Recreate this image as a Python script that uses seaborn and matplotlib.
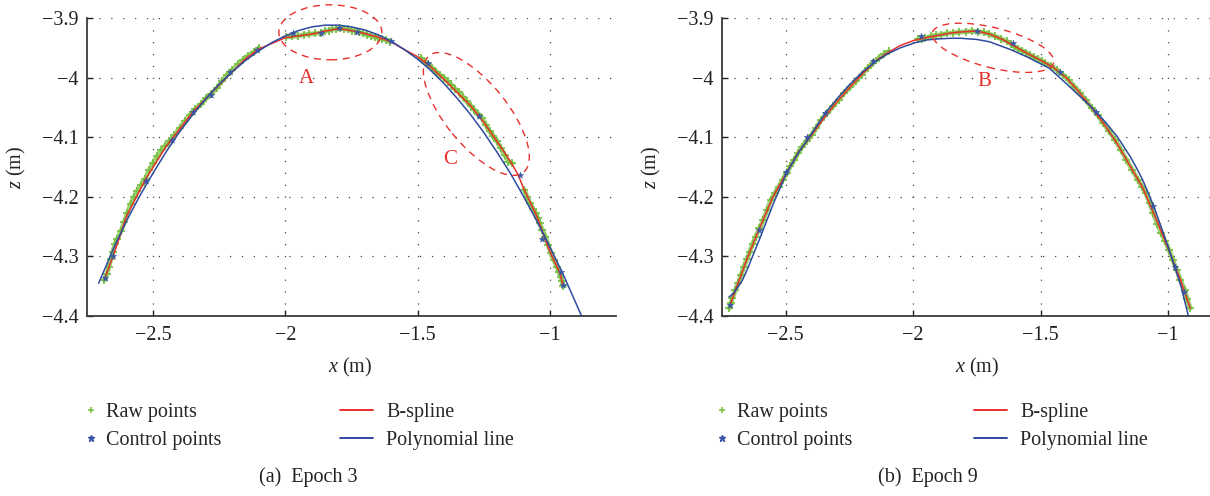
import matplotlib
matplotlib.use('Agg')
import matplotlib.pyplot as plt
from matplotlib.lines import Line2D
from matplotlib.patches import Ellipse
from matplotlib.transforms import ScaledTranslation
import seaborn as sns

# ---------------- data ----------------
# (a) Epoch 3
raw_x_e3 = [-2.684, -2.675, -2.668, -2.660, -2.652, -2.645, -2.635, -2.622, -2.610, -2.598,
            -2.585, -2.572, -2.560, -2.545, -2.530, -2.515, -2.500, -2.485, -2.470, -2.455,
            -2.440, -2.420, -2.400, -2.380, -2.360, -2.340, -2.320, -2.300, -2.280, -2.260,
            -2.240, -2.220, -2.200, -2.180, -2.160, -2.140, -2.120, -2.100,
            -1.996, -1.975, -1.952, -1.930, -1.909, -1.887, -1.865, -1.850, -1.836, -1.822,
            -1.807, -1.792, -1.778, -1.763, -1.749, -1.735, -1.720, -1.705, -1.691, -1.676,
            -1.662, -1.648, -1.633, -1.618, -1.604,
            -1.488, -1.474, -1.460, -1.445, -1.430, -1.416, -1.401, -1.387, -1.372, -1.358,
            -1.343, -1.329, -1.315, -1.300, -1.286, -1.271, -1.257, -1.243, -1.228, -1.214,
            -1.200, -1.186, -1.171, -1.157, -1.142,
            -1.097, -1.086, -1.075, -1.064, -1.054, -1.046, -1.039, -1.028, -1.017, -1.006,
            -0.996, -0.985, -0.974, -0.966, -0.959, -0.954, -0.949]
raw_z_e3 = [-4.340, -4.330, -4.318, -4.305, -4.292, -4.280, -4.270, -4.258, -4.243, -4.228,
            -4.212, -4.200, -4.190, -4.180, -4.170, -4.155, -4.143, -4.132, -4.122, -4.115,
            -4.107, -4.097, -4.085, -4.073, -4.062, -4.052, -4.045, -4.035, -4.027, -4.018,
            -4.006, -3.995, -3.987, -3.978, -3.970, -3.963, -3.957, -3.950,
            -3.932, -3.931, -3.930, -3.928, -3.927, -3.926, -3.925, -3.922, -3.921, -3.919,
            -3.918, -3.917, -3.918, -3.919, -3.921, -3.922, -3.924, -3.926, -3.928, -3.930,
            -3.932, -3.933, -3.935, -3.937, -3.940,
            -3.967, -3.973, -3.978, -3.984, -3.990, -3.995, -4.000, -4.006, -4.012, -4.019,
            -4.025, -4.032, -4.040, -4.047, -4.054, -4.061, -4.068, -4.079, -4.090, -4.098,
            -4.107, -4.118, -4.130, -4.141, -4.144,
            -4.188, -4.200, -4.211, -4.220, -4.228, -4.236, -4.244, -4.256, -4.267, -4.281,
            -4.295, -4.306, -4.317, -4.326, -4.334, -4.342, -4.350]
raw_breaks_e3 = [38, 63, 88]

ctrl_x_e3 = [-2.681, -2.651, -2.528, -2.428, -2.351, -2.281, -2.209, -2.109, -1.971, -1.865,
             -1.796, -1.728, -1.601, -1.459, -1.267, -1.112, -1.028, -0.957, -0.952]
ctrl_z_e3 = [-4.337, -4.299, -4.174, -4.104, -4.058, -4.029, -3.991, -3.954, -3.925, -3.925,
             -3.916, -3.924, -3.939, -3.976, -4.064, -4.164, -4.270, -4.327, -4.348]

spline_x_e3 = [-2.684, -2.650, -2.600, -2.528, -2.450, -2.350, -2.250, -2.150, -2.100, -2.000,
               -1.950, -1.900, -1.850, -1.800, -1.750, -1.700, -1.650, -1.600, -1.550, -1.500,
               -1.450, -1.400, -1.350, -1.300, -1.250, -1.200, -1.150, -1.120, -1.100, -1.050,
               -1.000, -0.960, -0.950]
spline_z_e3 = [-4.338, -4.298, -4.232, -4.170, -4.115, -4.058, -4.012, -3.968, -3.952, -3.933,
               -3.930, -3.927, -3.922, -3.918, -3.921, -3.926, -3.932, -3.940, -3.953, -3.965,
               -3.982, -4.003, -4.025, -4.047, -4.075, -4.107, -4.140, -4.163, -4.185, -4.232,
               -4.292, -4.330, -4.350]

poly_x_e3 = [-2.706, -2.650, -2.600, -2.550, -2.500, -2.450, -2.400, -2.350, -2.300, -2.250,
             -2.200, -2.150, -2.100, -2.050, -2.000, -1.950, -1.900, -1.850, -1.800, -1.750,
             -1.700, -1.650, -1.600, -1.550, -1.500, -1.450, -1.400, -1.350, -1.300, -1.250,
             -1.200, -1.150, -1.100, -1.050, -1.000, -0.950, -0.900, -0.880]
poly_z_e3 = [-4.345, -4.287, -4.240, -4.198, -4.160, -4.124, -4.091, -4.062, -4.035, -4.011,
             -3.990, -3.971, -3.955, -3.941, -3.930, -3.921, -3.915, -3.912, -3.912, -3.915,
             -3.920, -3.928, -3.939, -3.953, -3.969, -3.988, -4.010, -4.035, -4.062, -4.092,
             -4.125, -4.160, -4.199, -4.240, -4.284, -4.330, -4.380, -4.400]

# (b) Epoch 9
raw_x_e9 = [-2.721, -2.715, -2.709, -2.698, -2.686, -2.675, -2.664, -2.652, -2.641, -2.630,
            -2.618, -2.603, -2.588, -2.573, -2.558, -2.543, -2.527, -2.512, -2.497, -2.482,
            -2.467, -2.452, -2.436, -2.417, -2.398, -2.380, -2.361, -2.338, -2.315, -2.292,
            -2.270, -2.247, -2.224, -2.202, -2.179, -2.156, -2.133, -2.114, -2.095,
            -1.982, -1.967, -1.952, -1.932, -1.911, -1.891, -1.868, -1.845, -1.820, -1.795,
            -1.770, -1.747, -1.724, -1.701, -1.679, -1.656, -1.633, -1.618, -1.603, -1.588,
            -1.572, -1.557, -1.542, -1.527, -1.512, -1.497, -1.482, -1.459, -1.436, -1.414,
            -1.391, -1.368, -1.345, -1.323, -1.300, -1.277, -1.255, -1.232, -1.209, -1.186,
            -1.164, -1.141, -1.118, -1.103, -1.088, -1.073, -1.058, -1.043, -1.027, -1.012,
            -0.997, -0.982, -0.967, -0.952, -0.936, -0.925, -0.914]
raw_z_e9 = [-4.387, -4.378, -4.370, -4.357, -4.345, -4.331, -4.317, -4.304, -4.292, -4.279,
            -4.267, -4.253, -4.239, -4.222, -4.205, -4.194, -4.183, -4.171, -4.160, -4.149,
            -4.138, -4.127, -4.116, -4.106, -4.096, -4.084, -4.071, -4.060, -4.048, -4.037,
            -4.026, -4.016, -4.006, -3.995, -3.984, -3.975, -3.967, -3.961, -3.956,
            -3.936, -3.935, -3.934, -3.931, -3.929, -3.928, -3.926, -3.925, -3.924, -3.923,
            -3.922, -3.923, -3.924, -3.927, -3.931, -3.935, -3.939, -3.943, -3.948, -3.952,
            -3.955, -3.958, -3.962, -3.966, -3.969, -3.972, -3.976, -3.981, -3.987, -3.995,
            -4.004, -4.015, -4.026, -4.038, -4.051, -4.063, -4.076, -4.090, -4.104, -4.121,
            -4.138, -4.155, -4.172, -4.183, -4.194, -4.211, -4.228, -4.245, -4.261, -4.275,
            -4.289, -4.306, -4.323, -4.340, -4.356, -4.372, -4.387]
raw_breaks_e9 = [39]

ctrl_x_e9 = [-2.720, -2.606, -2.500, -2.417, -2.348, -2.159, -1.970, -1.750, -1.608, -1.424,
             -1.285, -1.061, -0.974, -0.939]
ctrl_z_e9 = [-4.382, -4.256, -4.159, -4.099, -4.060, -3.972, -3.930, -3.921, -3.942, -3.990,
             -4.058, -4.216, -4.317, -4.359]

spline_x_e9 = [-2.721, -2.700, -2.650, -2.600, -2.550, -2.500, -2.450, -2.400, -2.350, -2.300,
               -2.250, -2.200, -2.150, -2.100, -2.050, -2.000, -1.950, -1.900, -1.850, -1.800,
               -1.750, -1.700, -1.650, -1.600, -1.550, -1.500, -1.450, -1.400, -1.350, -1.300,
               -1.250, -1.200, -1.150, -1.100, -1.050, -1.000, -0.950, -0.914]
spline_z_e9 = [-4.385, -4.360, -4.302, -4.250, -4.200, -4.162, -4.125, -4.097, -4.068, -4.041,
               -4.017, -3.994, -3.973, -3.958, -3.946, -3.938, -3.933, -3.929, -3.925, -3.923,
               -3.922, -3.927, -3.936, -3.948, -3.960, -3.971, -3.983, -4.000, -4.024, -4.051,
               -4.079, -4.111, -4.148, -4.185, -4.235, -4.287, -4.342, -4.387]

poly_x_e9 = [-2.722, -2.705, -2.691, -2.670, -2.652, -2.600, -2.550, -2.497, -2.450, -2.400,
             -2.345, -2.300, -2.250, -2.200, -2.148, -2.100, -2.050, -1.997, -1.950, -1.900,
             -1.850, -1.815, -1.750, -1.700, -1.650, -1.618, -1.550, -1.500, -1.467, -1.400,
             -1.350, -1.300, -1.250, -1.200, -1.150, -1.125, -1.100, -1.075, -1.050, -1.025,
             -1.000, -0.975, -0.950, -0.921]
poly_z_e9 = [-4.368, -4.362, -4.353, -4.340, -4.323, -4.268, -4.213, -4.160, -4.126, -4.095,
             -4.060, -4.036, -4.012, -3.991, -3.973, -3.960, -3.950, -3.942, -3.937, -3.935,
             -3.934, -3.934, -3.936, -3.940, -3.948, -3.953, -3.966, -3.977, -3.984, -4.010,
             -4.030, -4.050, -4.073, -4.099, -4.132, -4.151, -4.172, -4.197, -4.224, -4.254,
             -4.285, -4.317, -4.350, -4.400]

x_ticks = [-2.5, -2.0, -1.5, -1.0]
x_tick_labels = ['\u22122.5', '\u22122', '\u22121.5', '\u22121']
z_ticks = [-3.9, -4.0, -4.1, -4.2, -4.3, -4.4]
z_tick_labels = ['\u22123.9', '\u22124', '\u22124.1', '\u22124.2', '\u22124.3', '\u22124.4']
captions = ['(a)  Epoch 3', '(b)  Epoch 9']
legend_labels = ['Raw points', 'Control points', 'B-spline', 'Polynomial line']

GREEN = '#78c245'
BLUE_PT = '#3a55a5'
RED = '#e8302c'
BLUE = '#2f49a0'

# ---------------- style ----------------
sns.set_style('white')
plt.rcParams['font.family'] = ['Liberation Serif', 'DejaVu Serif']
plt.rcParams['mathtext.fontset'] = 'custom'
plt.rcParams['mathtext.it'] = 'Liberation Serif:italic'
plt.rcParams['mathtext.rm'] = 'Liberation Serif'
FS = 14.5
W, H = 1210, 496

fig = plt.figure(figsize=(12.1, 4.96), dpi=100)
ax1 = fig.add_axes([87 / W, 180 / H, 529 / W, 298 / H])
ax2 = fig.add_axes([722 / W, 180 / H, 510 / W, 298 / H])


def draw_panel(ax, rx, rz, breaks, cx, cz, sx, sz, px, pz):
    # dense green band behind the raw "+" markers
    cuts = [0] + breaks + [len(rx)]
    for a, b in zip(cuts[:-1], cuts[1:]):
        ax.plot(rx[a:b], rz[a:b], color=GREEN, lw=3.4, alpha=0.75,
                solid_capstyle='round', zorder=2)
    sns.scatterplot(x=rx, y=rz, marker='+', color=GREEN, s=30, linewidth=1.3,
                    ax=ax, zorder=2.5)
    sns.lineplot(x=sx, y=sz, sort=False, estimator=None, color=RED, lw=1.1,
                 ax=ax, zorder=3)
    sns.lineplot(x=px, y=pz, sort=False, estimator=None, color=BLUE, lw=1.1,
                 ax=ax, zorder=3.1)
    sns.scatterplot(x=cx, y=cz, marker='*', color=BLUE_PT, edgecolor=BLUE_PT,
                    s=22, linewidth=0.4, ax=ax, zorder=4)

    ax.set_xlim(-2.75, -0.75)
    ax.set_ylim(-4.4, -3.9)
    ax.set_xticks(x_ticks)
    ax.set_xticklabels(x_tick_labels)
    ax.set_yticks(z_ticks)
    ax.set_yticklabels(z_tick_labels)
    ax.grid(True, linestyle=(0, (1, 8.5)), color='#444444', lw=0.9)
    ax.tick_params(axis='both', direction='in', length=4, width=1, bottom=True,
                   left=True, labelsize=FS, colors='#222222')
    ax.tick_params(axis='x', pad=7)
    ax.tick_params(axis='y', pad=6)
    for s in ['top', 'right']:
        ax.spines[s].set_visible(False)
    for s in ['left', 'bottom']:
        ax.spines[s].set_color('#3a3a3a')
        ax.spines[s].set_linewidth(1.3)
    ax.set_xlabel('$x$ (m)', fontsize=FS, color='#222222')
    ax.set_ylabel('$z$ (m)', fontsize=FS, color='#222222')


draw_panel(ax1, raw_x_e3, raw_z_e3, raw_breaks_e3, ctrl_x_e3, ctrl_z_e3,
           spline_x_e3, spline_z_e3, poly_x_e3, poly_z_e3)
draw_panel(ax2, raw_x_e9, raw_z_e9, raw_breaks_e9, ctrl_x_e9, ctrl_z_e9,
           spline_x_e9, spline_z_e9, poly_x_e9, poly_z_e9)

ax1.xaxis.set_label_coords(0.497, -0.135)
ax2.xaxis.set_label_coords(0.5, -0.135)
ax1.yaxis.set_label_coords(-0.1115, 0.5)
ax2.yaxis.set_label_coords(-0.1157, 0.5)


# dashed annotation ellipses, sized in pixels around a data point
def ring(ax, xc, zc, w, h, ang, label, lx, lz):
    e = Ellipse((0, 0), w, h, angle=ang, fill=False, edgecolor=RED, lw=1.0,
                linestyle=(0, (5, 4)), clip_on=False,
                transform=ScaledTranslation(xc, zc, ax.transData), zorder=5)
    ax.add_artist(e)
    ax.text(lx, lz, label, color=RED, fontsize=FS + 0.5, ha='center', va='center')


ring(ax1, -1.830, -3.924, 103, 55, 0, 'A', -1.920, -4.002)
ring(ax1, -1.278, -4.061, 150, 62, -51, 'C', -1.376, -4.137)
ring(ax2, -1.687, -3.950, 125, 40, -14, 'B', -1.722, -4.007)

# legends and captions below the panels
for mx, lx, cap_x, cap in [(83, 340, 308, captions[0]), (713.5, 974, 928, captions[1])]:
    mk = [Line2D([], [], ls='none', marker='+', color=GREEN, ms=5, mew=1.2),
          Line2D([], [], ls='none', marker='*', color=BLUE_PT, ms=5)]
    ln = [Line2D([], [], color=RED, lw=1.4), Line2D([], [], color=BLUE, lw=1.4)]
    fig.legend(mk, legend_labels[:2], loc='center left', bbox_to_anchor=(mx / W, 69.5 / H),
               frameon=False, handlelength=0.8, handletextpad=0.35, borderpad=0,
               borderaxespad=0, labelspacing=0.4, fontsize=FS)
    fig.legend(ln, legend_labels[2:], loc='center left', bbox_to_anchor=(lx / W, 69.5 / H),
               frameon=False, handlelength=1.65, handletextpad=0.65, borderpad=0,
               borderaxespad=0, labelspacing=0.4, fontsize=FS)
    fig.text(cap_x / W, 19 / H, cap, ha='center', va='center', fontsize=FS, color='#222222')

fig.savefig('out.png', dpi=100)
